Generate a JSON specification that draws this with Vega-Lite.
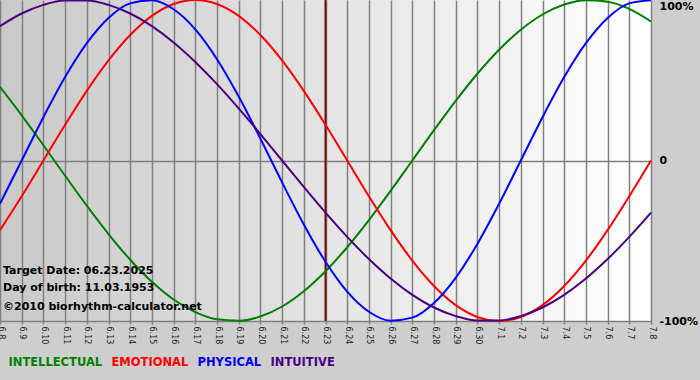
{
  "$schema": "https://vega.github.io/schema/vega-lite/v6.json",
  "autosize": {"type": "none"},
  "width": 651,
  "height": 321,
  "padding": {"left": 0, "top": 0, "right": 49, "bottom": 59},
  "background": "#cecece",
  "config": {
    "view": {
      "stroke": null,
      "fill": {"gradient": "linear", "x1": 0, "y1": 0, "x2": 1, "y2": 0,
        "stops": [{"offset": 0, "color": "#c9c9c9"}, {"offset": 1, "color": "#ffffff"}]}
    },
    "font": "DejaVu Sans"
  },
  "data": {
    "values": [
      {"d": "6.8", "INTELLECTUAL": 0.4582, "EMOTIONAL": -0.4339, "PHYSICAL": -0.2698, "INTUITIVE": 0.8372},
      {"d": "6.9", "INTELLECTUAL": 0.2817, "EMOTIONAL": -0.2225, "PHYSICAL": 0, "INTUITIVE": 0.9158},
      {"d": "6.10", "INTELLECTUAL": 0.0951, "EMOTIONAL": 0, "PHYSICAL": 0.2698, "INTUITIVE": 0.9694},
      {"d": "6.11", "INTELLECTUAL": -0.0951, "EMOTIONAL": 0.2225, "PHYSICAL": 0.5196, "INTUITIVE": 0.9966},
      {"d": "6.12", "INTELLECTUAL": -0.2817, "EMOTIONAL": 0.4339, "PHYSICAL": 0.7308, "INTUITIVE": 0.9966},
      {"d": "6.13", "INTELLECTUAL": -0.4582, "EMOTIONAL": 0.6235, "PHYSICAL": 0.8879, "INTUITIVE": 0.9694},
      {"d": "6.14", "INTELLECTUAL": -0.6182, "EMOTIONAL": 0.7818, "PHYSICAL": 0.9791, "INTUITIVE": 0.9158},
      {"d": "6.15", "INTELLECTUAL": -0.7557, "EMOTIONAL": 0.9010, "PHYSICAL": 0.9977, "INTUITIVE": 0.8372},
      {"d": "6.16", "INTELLECTUAL": -0.8660, "EMOTIONAL": 0.9749, "PHYSICAL": 0.9423, "INTUITIVE": 0.7357},
      {"d": "6.17", "INTELLECTUAL": -0.9450, "EMOTIONAL": 1, "PHYSICAL": 0.8170, "INTUITIVE": 0.6142},
      {"d": "6.18", "INTELLECTUAL": -0.9898, "EMOTIONAL": 0.9749, "PHYSICAL": 0.6310, "INTUITIVE": 0.4759},
      {"d": "6.19", "INTELLECTUAL": -0.9989, "EMOTIONAL": 0.9010, "PHYSICAL": 0.3984, "INTUITIVE": 0.3247},
      {"d": "6.20", "INTELLECTUAL": -0.9718, "EMOTIONAL": 0.7818, "PHYSICAL": 0.1362, "INTUITIVE": 0.1646},
      {"d": "6.21", "INTELLECTUAL": -0.9096, "EMOTIONAL": 0.6235, "PHYSICAL": -0.1362, "INTUITIVE": 0},
      {"d": "6.22", "INTELLECTUAL": -0.8146, "EMOTIONAL": 0.4339, "PHYSICAL": -0.3984, "INTUITIVE": -0.1646},
      {"d": "6.23", "INTELLECTUAL": -0.6901, "EMOTIONAL": 0.2225, "PHYSICAL": -0.6310, "INTUITIVE": -0.3247},
      {"d": "6.24", "INTELLECTUAL": -0.5406, "EMOTIONAL": 0, "PHYSICAL": -0.8170, "INTUITIVE": -0.4759},
      {"d": "6.25", "INTELLECTUAL": -0.3717, "EMOTIONAL": -0.2225, "PHYSICAL": -0.9423, "INTUITIVE": -0.6142},
      {"d": "6.26", "INTELLECTUAL": -0.1893, "EMOTIONAL": -0.4339, "PHYSICAL": -0.9977, "INTUITIVE": -0.7357},
      {"d": "6.27", "INTELLECTUAL": 0, "EMOTIONAL": -0.6235, "PHYSICAL": -0.9791, "INTUITIVE": -0.8372},
      {"d": "6.28", "INTELLECTUAL": 0.1893, "EMOTIONAL": -0.7818, "PHYSICAL": -0.8879, "INTUITIVE": -0.9158},
      {"d": "6.29", "INTELLECTUAL": 0.3717, "EMOTIONAL": -0.9010, "PHYSICAL": -0.7308, "INTUITIVE": -0.9694},
      {"d": "6.30", "INTELLECTUAL": 0.5406, "EMOTIONAL": -0.9749, "PHYSICAL": -0.5196, "INTUITIVE": -0.9966},
      {"d": "7.1", "INTELLECTUAL": 0.6901, "EMOTIONAL": -1, "PHYSICAL": -0.2698, "INTUITIVE": -0.9966},
      {"d": "7.2", "INTELLECTUAL": 0.8146, "EMOTIONAL": -0.9749, "PHYSICAL": 0, "INTUITIVE": -0.9694},
      {"d": "7.3", "INTELLECTUAL": 0.9096, "EMOTIONAL": -0.9010, "PHYSICAL": 0.2698, "INTUITIVE": -0.9158},
      {"d": "7.4", "INTELLECTUAL": 0.9718, "EMOTIONAL": -0.7818, "PHYSICAL": 0.5196, "INTUITIVE": -0.8372},
      {"d": "7.5", "INTELLECTUAL": 0.9989, "EMOTIONAL": -0.6235, "PHYSICAL": 0.7308, "INTUITIVE": -0.7357},
      {"d": "7.6", "INTELLECTUAL": 0.9898, "EMOTIONAL": -0.4339, "PHYSICAL": 0.8879, "INTUITIVE": -0.6142},
      {"d": "7.7", "INTELLECTUAL": 0.9450, "EMOTIONAL": -0.2225, "PHYSICAL": 0.9791, "INTUITIVE": -0.4759},
      {"d": "7.8", "INTELLECTUAL": 0.8660, "EMOTIONAL": 0, "PHYSICAL": 0.9977, "INTUITIVE": -0.3247}
    ]
  },
  "encoding": {
    "x": {
      "field": "d", "type": "ordinal", "sort": null,
      "scale": {"type": "point", "padding": 0,
        "domain": ["6.8","6.9","6.10","6.11","6.12","6.13","6.14","6.15","6.16","6.17","6.18","6.19","6.20","6.21","6.22","6.23","6.24","6.25","6.26","6.27","6.28","6.29","6.30","7.1","7.2","7.3","7.4","7.5","7.6","7.7","7.8"]},
      "axis": {
        "title": null, "labelAngle": 90, "labelAlign": "left", "labelBaseline": "middle",
        "labelFontSize": 8, "labelFont": "DejaVu Sans", "labelColor": "#222222",
        "labelPadding": 2, "labelOverlap": false,
        "tickSize": 3, "tickColor": "#808080", "tickWidth": 1.5,
        "domainColor": "#808080", "domainWidth": 1.5,
        "grid": true, "gridColor": "#808080", "gridWidth": 1.5
      }
    }
  },
  "layer": [
    {
      "transform": [{"filter": "datum.d == '6.23'"}],
      "mark": {"type": "rule", "color": "#7a0a0a", "strokeWidth": 2},
      "encoding": {"x": {"field": "d", "type": "ordinal"}}
    },
    {
      "transform": [{"fold": ["INTELLECTUAL", "EMOTIONAL", "PHYSICAL", "INTUITIVE"], "as": ["series", "v"]}],
      "mark": {"type": "line", "interpolate": "monotone", "strokeWidth": 2, "clip": false},
      "encoding": {
        "y": {
          "field": "v", "type": "quantitative",
          "scale": {"domain": [-1, 1], "nice": false, "zero": false},
          "axis": {
            "orient": "right", "title": null, "values": [-1, 0, 1],
            "labelExpr": "datum.value == 1 ? '100%' : (datum.value == -1 ? '-100%' : '0')",
            "labelFont": "DejaVu Sans", "labelFontSize": 11, "labelFontWeight": "bold", "labelColor": "#000000",
            "labelBaseline": {"condition": {"test": "datum.value == 1", "value": "top"}, "value": "middle"},
            "labelPadding": 8, "ticks": false, "domain": false,
            "grid": true, "gridColor": "#808080", "gridWidth": 1.5,
            "gridOpacity": {"condition": {"test": "datum.value == 0", "value": 1}, "value": 0}
          }
        },
        "color": {
          "field": "series", "type": "nominal",
          "scale": {"domain": ["INTELLECTUAL", "EMOTIONAL", "PHYSICAL", "INTUITIVE"],
                    "range": ["#008000", "#ff0000", "#0000ff", "#4b0082"]},
          "legend": {
            "orient": "bottom", "direction": "horizontal", "title": null,
            "symbolSize": 0, "symbolStrokeWidth": 0, "labelOffset": -3,
            "labelFont": "DejaVu Sans", "labelFontSize": 11.5, "labelFontWeight": "bold",
            "columnPadding": -5, "offset": 13, "padding": 0,
            "encode": {"labels": {"update": {"fill": {"scale": "color", "field": "value"}}}}
          }
        }
      }
    },
    {
      "transform": [{"filter": "datum.d == '6.8'"}],
      "mark": {"type": "text", "text": "Target Date: 06.23.2025", "align": "left", "baseline": "middle", "dx": 3, "fontSize": 11, "fontWeight": "bold", "font": "DejaVu Sans", "color": "#000000"},
      "encoding": {"x": {"field": "d", "type": "ordinal"}, "y": {"datum": -0.69, "type": "quantitative"}}
    },
    {
      "transform": [{"filter": "datum.d == '6.8'"}],
      "mark": {"type": "text", "text": "Day of birth: 11.03.1953", "align": "left", "baseline": "middle", "dx": 3, "fontSize": 11, "fontWeight": "bold", "font": "DejaVu Sans", "color": "#000000"},
      "encoding": {"x": {"field": "d", "type": "ordinal"}, "y": {"datum": -0.795, "type": "quantitative"}}
    },
    {
      "transform": [{"filter": "datum.d == '6.8'"}],
      "mark": {"type": "text", "text": "©2010 biorhythm-calculator.net", "align": "left", "baseline": "middle", "dx": 3, "fontSize": 11, "fontWeight": "bold", "font": "DejaVu Sans", "color": "#000000"},
      "encoding": {"x": {"field": "d", "type": "ordinal"}, "y": {"datum": -0.915, "type": "quantitative"}}
    }
  ]
}
